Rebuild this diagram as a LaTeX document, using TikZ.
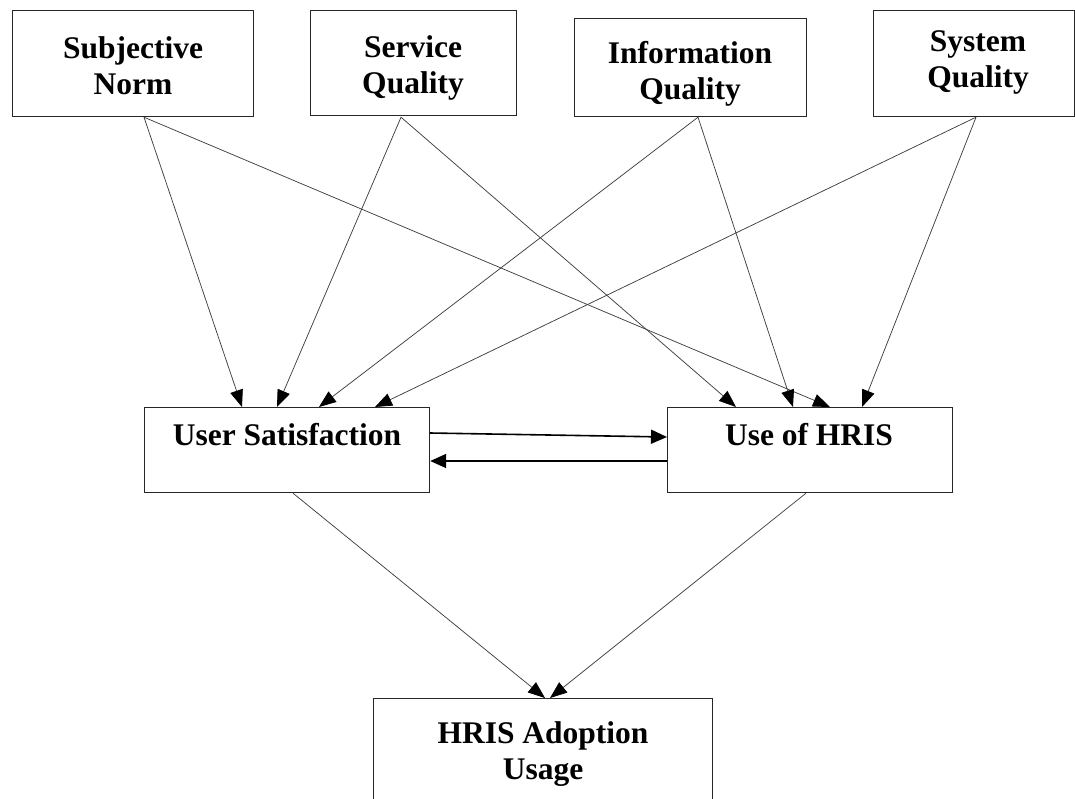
\documentclass[tikz,border=0pt]{standalone}
\usepackage{fontspec}
\setmainfont{Liberation Serif}
\usetikzlibrary{arrows.meta,calc}
\begin{document}
\begin{tikzpicture}[x=1pt,y=-1pt,
  box/.style={draw=black!85,line width=1.2pt,inner sep=0pt,anchor=north west},
  lbl/.style={font=\bfseries\fontsize{31.5}{36}\selectfont,align=center,inner sep=0pt,anchor=base},
  conn/.style={draw=black!75,line width=0.75pt,-{Triangle[length=17pt,width=13pt,color=black]}},
  heavy/.style={draw=black,line width=1.6pt,-{Triangle[length=16pt,width=14pt]}}]
\useasboundingbox (0,0) rectangle (1075,798);
% boxes
\node[box,minimum width=241pt,minimum height=106pt] (sn) at (12,10) {};
\node[box,minimum width=206pt,minimum height=105pt] (sq) at (310,10) {};
\node[box,minimum width=232pt,minimum height=98pt] (iq) at (574,18) {};
\node[box,minimum width=201pt,minimum height=106pt] (sy) at (873,10) {};
\node[box,minimum width=285pt,minimum height=85pt] (us) at (144,407) {};
\node[box,minimum width=285pt,minimum height=85pt] (uh) at (667,407) {};
\node[box,minimum width=339pt,minimum height=130pt] (ha) at (373,698) {};
% labels (anchor = baseline of the last line)
\node[lbl] (tsn) at (133,94) {Subjective\\Norm};
\node[lbl] (tsq) at (413,93) {Service\\Quality};
\node[lbl] (tiq) at (690,99) {Information\\Quality};
\node[lbl] (tsy) at (978,87) {System\\Quality};
\node[lbl] (tus) at (287,445) {User Satisfaction};
\node[lbl] (tuh) at (809,445) {Use of HRIS};
\node[lbl] (tha) at (543,779) {HRIS Adoption\\Usage};
% connectors
\draw[conn] ($(sn.south west)+(132,0)$) -- ($(us.north west)+(98,0)$);
\draw[conn] ($(sn.south west)+(132,0)$) -- ($(uh.north west)+(163,0)$);
\draw[conn] ($(sq.south west)+(91,1)$) -- ($(us.north west)+(133,0)$);
\draw[conn] ($(sq.south west)+(91,1)$) -- ($(uh.north west)+(69,0)$);
\draw[conn] ($(iq.south west)+(124,0)$) -- ($(us.north west)+(175,0)$);
\draw[conn] ($(iq.south west)+(124,0)$) -- ($(uh.north west)+(126,0)$);
\draw[conn] ($(sy.south west)+(103,0)$) -- ($(us.north west)+(231,0)$);
\draw[conn] ($(sy.south west)+(103,0)$) -- ($(uh.north west)+(195,0)$);
\draw[heavy] ($(us.north east)+(0,26)$) -- ($(uh.north west)+(0,30)$);
\draw[heavy] ($(uh.north west)+(0,54)$) -- ($(us.north east)+(0,54)$);
\draw[conn] ($(us.south west)+(149,0)$) -- ($(ha.north west)+(172,0)$);
\draw[conn] ($(uh.south west)+(139,0)$) -- ($(ha.north west)+(177,0)$);
\end{tikzpicture}
\end{document}
